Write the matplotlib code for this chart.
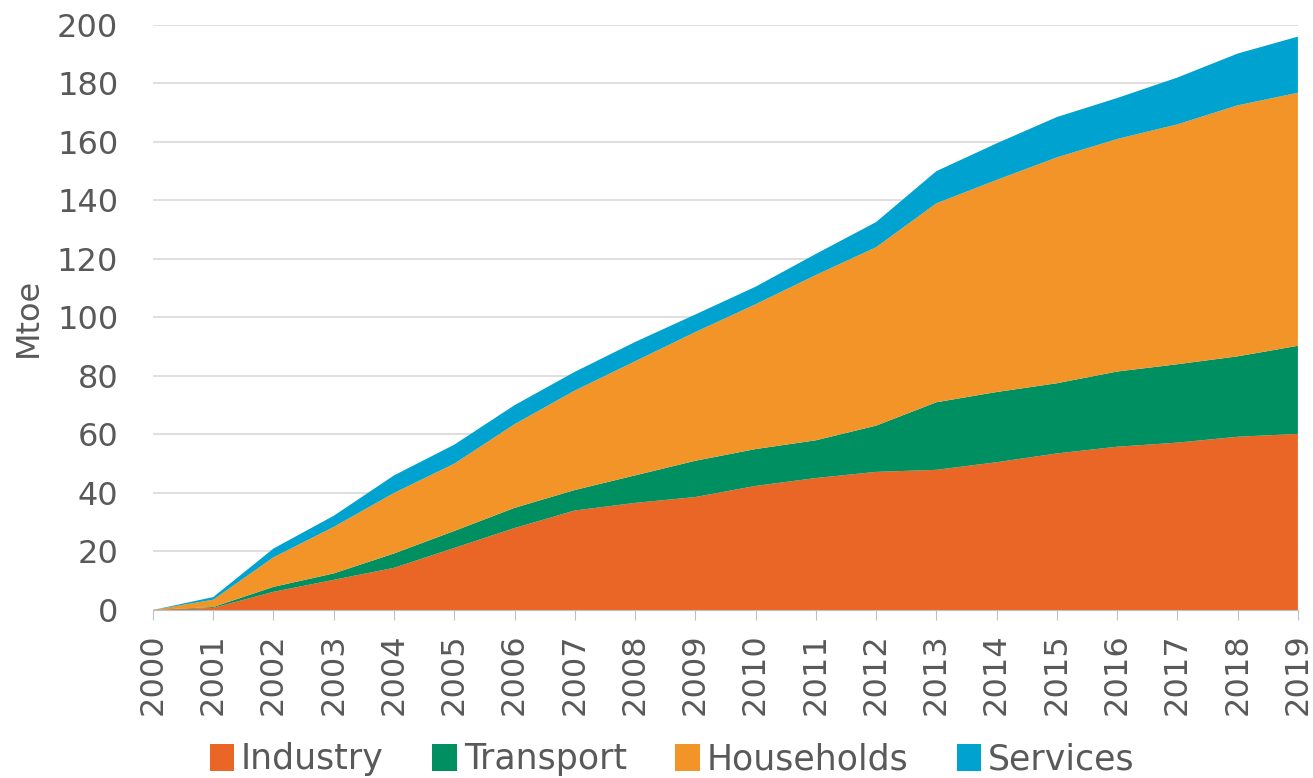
import matplotlib.pyplot as plt
from matplotlib.patches import Patch

years = list(range(2000, 2020))
industry = [0, 0.7, 6.2, 10.3, 14.4, 21.2, 28.0, 34.0, 36.6, 38.6,
            42.4, 45.1, 47.2, 47.9, 50.5, 53.5, 55.8, 57.2, 59.2, 60.2]
transport = [0, 0.3, 1.7, 2.2, 4.9, 5.8, 6.9, 7.0, 9.4, 12.4,
             12.6, 12.9, 15.8, 23.1, 24.0, 24.0, 25.7, 26.8, 27.5, 30.1]
households = [0, 2.5, 10.1, 15.9, 20.7, 23.0, 28.6, 34.0, 39.0, 44.0,
              49.5, 56.5, 61.0, 68.0, 72.5, 77.2, 79.5, 82.0, 85.8, 86.5]
services = [0, 0.9, 3.0, 3.8, 6.0, 6.5, 6.5, 6.4, 6.6, 6.0,
            6.0, 7.2, 8.6, 11.0, 12.5, 13.8, 14.0, 16.0, 17.7, 19.2]

labels = ['Industry', 'Transport', 'Households', 'Services']
colors = ['#E96626', '#008F60', '#F29428', '#00A3D0']
grey = '#595959'

fig = plt.figure(figsize=(13.13, 7.78), dpi=100)
ax = fig.add_axes([0.1165, 0.216, 0.872, 0.752])

ax.stackplot(years, industry, transport, households, services,
             colors=colors, linewidth=0)

ax.set_xlim(2000, 2019)
ax.set_ylim(0, 200)
ax.set_yticks(range(0, 201, 20))
ax.set_xticks(years)
ax.set_xticklabels([str(y) for y in years], rotation=90)
ax.tick_params(axis='y', length=0, labelsize=23, colors=grey, pad=25)
ax.tick_params(axis='x', length=7, labelsize=23, colors=grey, color='#BFBFBF', pad=10)
ax.grid(axis='y', color='#D9D9D9', linewidth=1.2)
ax.set_axisbelow(True)
for s in ['top', 'right', 'left']:
    ax.spines[s].set_visible(False)
ax.spines['bottom'].set_color('#BFBFBF')
ax.spines['bottom'].set_zorder(0)

ax.set_ylabel('Mtoe', fontsize=23, color=grey)
ax.yaxis.set_label_coords(-0.095, 0.50)

handles = [Patch(facecolor=c, edgecolor='none') for c in colors]
fig.legend(handles, labels, loc='lower center', bbox_to_anchor=(0.512, -0.038),
           ncol=4, frameon=False, fontsize=25, labelcolor=grey,
           handlelength=0.7, handleheight=0.8, handletextpad=0.2, columnspacing=1.4)

fig.savefig('out.png', dpi=100)
